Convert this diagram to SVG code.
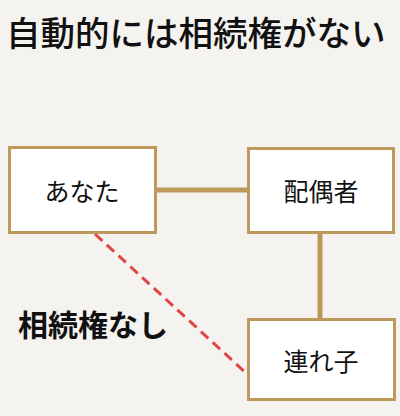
<svg xmlns="http://www.w3.org/2000/svg" width="400" height="416" viewBox="0 0 400 416">
<style>
.bg{fill:#f5f3ef}
.node rect{fill:#ffffff;stroke:#bd9a5c;stroke-width:3}
.node text{font-family:"Noto Sans CJK JP","Noto Sans",sans-serif;font-size:25px;fill:#111;text-anchor:middle;dominant-baseline:central}
.link{stroke:#bd9a5c;stroke-width:5;fill:none}
.dash{stroke:#e04545;stroke-width:3;stroke-dasharray:10 6;fill:none}
.title{font-family:"Noto Sans CJK JP","Noto Sans",sans-serif;font-size:34.5px;font-weight:500;fill:#111}
.note{font-family:"Noto Sans CJK JP","Noto Sans",sans-serif;font-size:30px;font-weight:bold;fill:#111}
</style>
<rect class="bg" x="0" y="0" width="400" height="416"/>
<text class="title" x="6" y="46">自動的には相続権がない</text>
<g id="connectors">
<line class="link" x1="156" y1="190" x2="248" y2="190"/>
<line class="link" x1="320" y1="232" x2="320" y2="320"/>
<line class="dash" x1="95" y1="234" x2="246" y2="373"/>
</g>
<g id="node-anata" class="node">
<rect x="9.5" y="147.5" width="146" height="85"/>
<text x="82" y="190">あなた</text>
</g>
<g id="node-haiguusha" class="node">
<rect x="248.5" y="148.5" width="145" height="84"/>
<text x="321" y="190">配偶者</text>
</g>
<g id="node-tsureko" class="node">
<rect x="248.5" y="319.5" width="146" height="80"/>
<text x="321" y="360">連れ子</text>
</g>
<text class="note" x="18" y="336">相続権なし</text>
</svg>
